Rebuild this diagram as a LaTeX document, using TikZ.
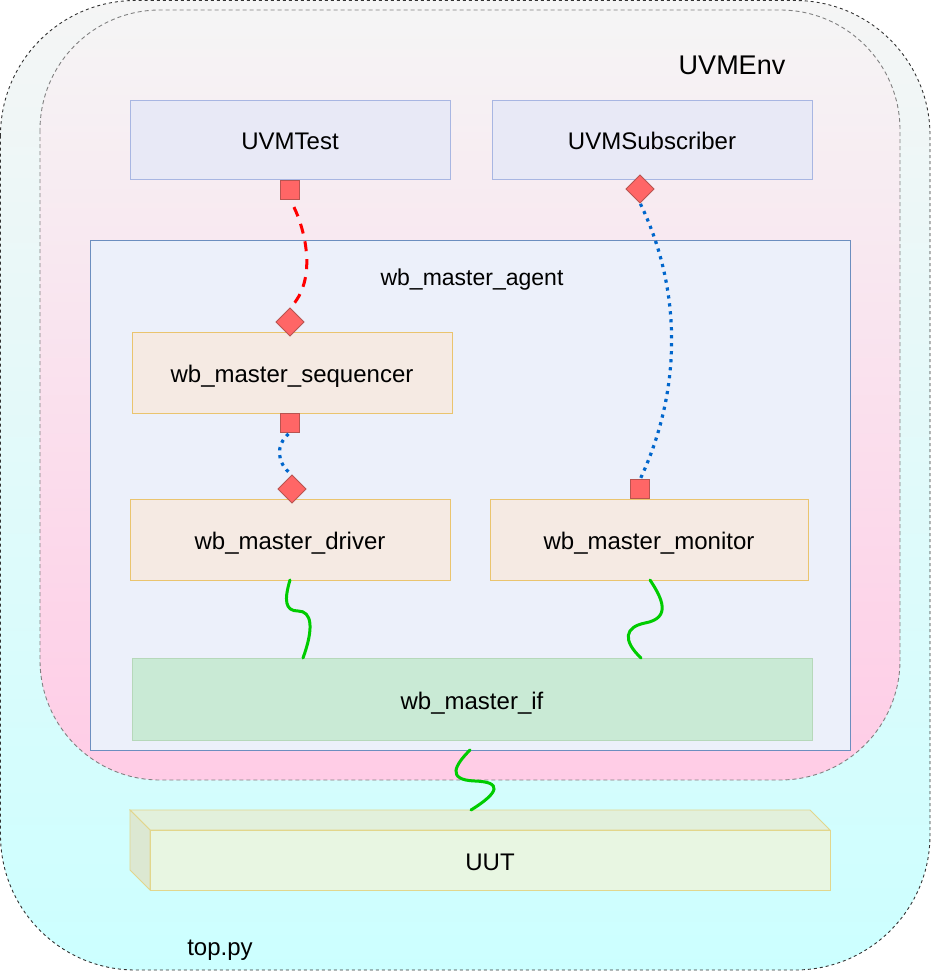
\documentclass[tikz,border=0pt]{standalone}
\usepackage{fontspec}
\setmainfont{Liberation Sans}
\usetikzlibrary{shapes.geometric}
\definecolor{boxfill}{RGB}{232,233,246}
\definecolor{boxdraw}{RGB}{168,182,226}
\definecolor{agentfill}{RGB}{236,240,250}
\definecolor{agentdraw}{RGB}{108,142,191}
\definecolor{compfill}{RGB}{245,234,227}
\definecolor{compdraw}{RGB}{234,196,110}
\definecolor{iffill}{RGB}{201,234,213}
\definecolor{ifdraw}{RGB}{182,216,186}
\definecolor{uutfront}{RGB}{232,246,226}
\definecolor{uuttop}{RGB}{226,240,220}
\definecolor{uutside}{RGB}{220,232,210}
\definecolor{uutdraw}{RGB}{226,214,140}
\definecolor{portfill}{RGB}{255,102,102}
\definecolor{portdraw}{RGB}{184,84,80}
\definecolor{wire}{RGB}{0,204,0}
\definecolor{dotblue}{RGB}{0,102,204}
\definecolor{envtop}{RGB}{245,245,245}
\definecolor{envbot}{RGB}{255,204,230}
\definecolor{topbot}{RGB}{204,255,255}
\tikzset{
  lbl/.style={font=\fontsize{24}{28}\selectfont, text=black, text height=23pt, text depth=3pt},
  ublock/.style={draw=boxdraw, fill=boxfill, line width=0.8pt, minimum width=320pt, minimum height=79pt, inner sep=0pt, outer sep=0pt, lbl},
  comp/.style={draw=compdraw, fill=compfill, line width=0.8pt, minimum height=81pt, inner sep=0pt, outer sep=0pt, lbl},
  sqport/.style={draw=portdraw, fill=portfill, line width=0.8pt, minimum size=19pt, inner sep=0pt, outer sep=0pt},
  diaport/.style={diamond, draw=portdraw, fill=portfill, line width=0.8pt, minimum width=28pt, minimum height=28pt, inner sep=0pt, outer sep=0pt, aspect=1},
  reddash/.style={draw=red, line width=3pt, dash pattern=on 10pt off 8pt},
  bluedot/.style={draw=dotblue, line width=3.2pt, dash pattern=on 3.2pt off 4.8pt},
  greenwire/.style={draw=wire, line width=3pt, line cap=round},
}
\begin{document}
\begin{tikzpicture}[x=1pt,y=-1pt]
\useasboundingbox (0,0) rectangle (931,971);
% outer top.py container
\path[top color=envtop, bottom color=topbot, rounded corners=135pt] (0.5,0.5) rectangle (930,970);
\draw[draw=black!80, line width=0.9pt, dash pattern=on 3pt off 3pt, rounded corners=135pt] (0.5,0.5) rectangle (930,970);
% inner UVMEnv container
\path[top color=envtop, bottom color=envbot, rounded corners=120pt] (40,10) rectangle (900,780);
\draw[draw=black!50, line width=0.9pt, dash pattern=on 4pt off 3pt, rounded corners=120pt] (40,10) rectangle (900,780);
\node[lbl, font=\fontsize{27}{31}\selectfont, text height=19pt, text depth=0pt] (envlbl) at (732,65) {UVMEnv};
\node[lbl] (toplbl) at (220,945) {top.py};

% top blocks
\node[ublock] (test) at (290,139.5) {UVMTest};
\node[ublock] (sub) at (652,139.5) {UVMSubscriber};

% agent
\node[draw=agentdraw, fill=agentfill, line width=0.8pt, minimum width=760pt, minimum height=510pt, inner sep=0pt, outer sep=0pt] (agent) at (470,495) {};
\node[lbl, font=\fontsize{23}{27}\selectfont] (agentlbl) at (472,275) {wb\_master\_agent};

\node[comp, minimum width=320pt] (seq) at (292,372.5) {wb\_master\_sequencer};
\node[comp, minimum width=320pt] (drv) at (290,539.5) {wb\_master\_driver};
\node[comp, minimum width=318pt] (mon) at (649,539.5) {wb\_master\_monitor};
\node[draw=ifdraw, fill=iffill, line width=0.8pt, minimum width=680pt, minimum height=82pt, inner sep=0pt, outer sep=0pt, lbl] (if) at (472,699) {wb\_master\_if};

% UUT 3D box
\filldraw[fill=uuttop, draw=uutdraw, line width=0.8pt] (130,810) -- (810,810) -- (830,830) -- (150,830) -- cycle;
\filldraw[fill=uutside, draw=uutdraw, line width=0.8pt] (130,810) -- (150,830) -- (150,890) -- (130,870) -- cycle;
\node[draw=uutdraw, fill=uutfront, line width=0.8pt, minimum width=680pt, minimum height=60pt, inner sep=0pt, outer sep=0pt, lbl] (uut) at (490,860) {UUT};

% ports
\node[sqport] (tport) at (290,189.5) {};
\node[diaport] (sqdia) at (290,322) {};
\node[diaport] (sdia) at (640,189) {};
\node[sqport] (mport) at (640,489) {};
\node[sqport] (qport) at (290,423) {};
\node[diaport] (ddia) at (292,489) {};

% connectors
\draw[reddash, shorten <=9pt] (tport.south) .. controls (305,230) and (318,280) .. (sqdia.north);
\draw[bluedot, shorten <=1pt, shorten >=1pt] (sdia.south) .. controls (682,290) and (682,390) .. (mport.north);
\draw[bluedot, shorten <=2pt, shorten >=1pt] (qport.south) .. controls (276,445) and (276,462) .. (ddia.north);

\coordinate (ifa) at (303,658);
\coordinate (ifb) at (641,658);
\coordinate (uutback) at (471,810);
\draw[greenwire] (drv.south) .. controls (284,600) and (285,611) .. (298,611) .. controls (312,611) and (314,628) .. (ifa);
\draw[greenwire] ([xshift=1pt]mon.south) .. controls (662,598) and (672,618) .. (645,623) .. controls (625,627) and (622,640) .. (ifb);
\draw[greenwire] (agent.south) .. controls (455,765) and (446,780) .. (475,781) .. controls (502,782) and (500,792) .. (uutback);
\end{tikzpicture}
\end{document}
